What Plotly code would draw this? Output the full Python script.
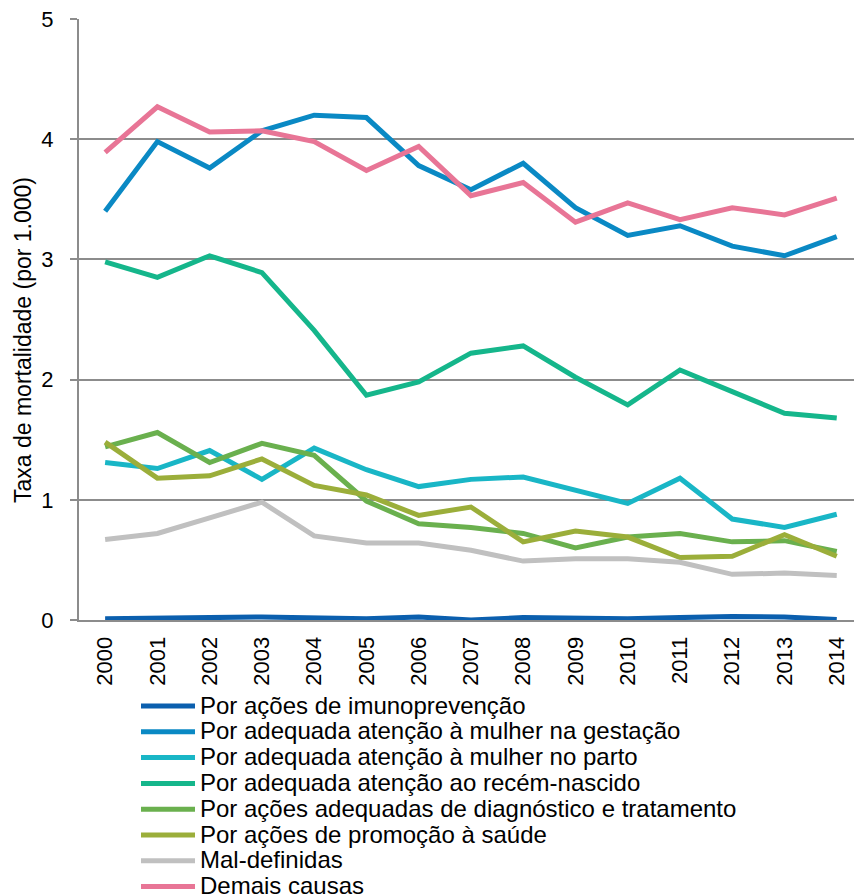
import plotly.graph_objects as go

# Infant mortality rate by avoidable cause group (per 1,000 live births)
years = list(range(2000, 2015))
year_labels = [str(y) for y in years]

imunoprevencao = [0.01, 0.02, 0.02, 0.025, 0.02, 0.01, 0.025, 0.0, 0.02, 0.01, 0.01, 0.02, 0.03, 0.025, 0.005]
gestacao = [3.40, 3.98, 3.76, 4.07, 4.20, 4.18, 3.78, 3.58, 3.80, 3.43, 3.20, 3.28, 3.11, 3.03, 3.19]
parto = [1.31, 1.26, 1.41, 1.17, 1.43, 1.25, 1.11, 1.17, 1.19, 1.08, 0.97, 1.18, 0.84, 0.77, 0.88]
recem_nascido = [2.98, 2.85, 3.03, 2.89, 2.41, 1.87, 1.98, 2.22, 2.28, 2.02, 1.79, 2.08, 1.90, 1.72, 1.68]
diagnostico = [1.44, 1.56, 1.31, 1.47, 1.37, 0.99, 0.80, 0.77, 0.72, 0.60, 0.69, 0.72, 0.65, 0.66, 0.57]
promocao = [1.48, 1.18, 1.20, 1.34, 1.12, 1.04, 0.87, 0.94, 0.65, 0.74, 0.69, 0.52, 0.53, 0.71, 0.53]
mal_definidas = [0.67, 0.72, 0.85, 0.98, 0.70, 0.64, 0.64, 0.58, 0.49, 0.51, 0.51, 0.48, 0.38, 0.39, 0.37]
demais = [3.89, 4.27, 4.06, 4.07, 3.98, 3.74, 3.94, 3.53, 3.64, 3.31, 3.47, 3.33, 3.43, 3.37, 3.51]

series_names = [
    "Por ações de imunoprevenção",
    "Por adequada atenção à mulher na gestação",
    "Por adequada atenção à mulher no parto",
    "Por adequada atenção ao recém-nascido",
    "Por ações adequadas de diagnóstico e tratamento",
    "Por ações de promoção à saúde",
    "Mal-definidas",
    "Demais causas",
]
series_values = [imunoprevencao, gestacao, parto, recem_nascido,
                 diagnostico, promocao, mal_definidas, demais]
series_colors = ["#0b5fae", "#0a89c4", "#19b6c6", "#15b68b",
                 "#6ab04e", "#9bae3a", "#c0c0c0", "#e87596"]

FONT = "Liberation Sans, Arial, sans-serif"
GRID = "#8c8c8c"

# Plot area geometry in pixels
W, H = 854, 895
L, R, T, B = 79, 0, 19, 275
PW, PH = W - L - R, H - T - B


def px_x(px):
    return (px - L) / PW


def px_y(py):
    return (H - B - py) / PH


fig = go.Figure()
for name, vals, col in zip(series_names, series_values, series_colors):
    fig.add_trace(go.Scatter(
        x=years, y=vals, name=name, mode="lines",
        line=dict(color=col, width=5),
        showlegend=False,
    ))

# Legend drawn below the plot: swatch line + label per series
legend_top = 706
legend_step = 25.8
shapes = []
annotations = []
for i, (name, col) in enumerate(zip(series_names, series_colors)):
    yc = legend_top + i * legend_step
    shapes.append(dict(
        type="line", xref="paper", yref="paper",
        x0=px_x(141), x1=px_x(195), y0=px_y(yc), y1=px_y(yc),
        line=dict(color=col, width=5),
    ))
    annotations.append(dict(
        text=name, xref="paper", yref="paper",
        x=px_x(198), y=px_y(yc - 1), xanchor="left", yanchor="middle",
        showarrow=False, font=dict(family=FONT, size=24, color="#000000"),
    ))

annotations.append(dict(
    text="Taxa de mortalidade (por 1.000)", xref="paper", yref="paper",
    x=px_x(23), y=px_y(340), xanchor="center", yanchor="middle",
    textangle=-90, showarrow=False,
    font=dict(family=FONT, size=23, color="#000000"),
))

fig.update_layout(
    width=W, height=H,
    margin=dict(l=L, r=R, t=T, b=B, pad=0),
    paper_bgcolor="white", plot_bgcolor="white",
    shapes=shapes, annotations=annotations,
    font=dict(family=FONT, color="#000000"),
)
fig.update_xaxes(
    range=[1999.5, 2014.33],
    tickmode="array", tickvals=years, ticktext=year_labels,
    tickangle=-90, ticks="", showgrid=False, zeroline=False,
    showline=True, linecolor=GRID, linewidth=2,
    tickfont=dict(family=FONT, size=22, color="#000000"),
    ticklabelstandoff=6,
)
fig.update_yaxes(
    range=[0, 5], tickmode="array", tickvals=[0, 1, 2, 3, 4, 5],
    ticktext=["0", "1", "2", "3", "4", "5"],
    showgrid=True, gridcolor=GRID, gridwidth=2, zeroline=False,
    showline=True, linecolor=GRID, linewidth=2,
    ticks="outside", ticklen=7, tickwidth=2, tickcolor=GRID,
    tickfont=dict(family=FONT, size=22, color="#000000"),
    ticklabelstandoff=12,
)

fig.write_html("out.html")
